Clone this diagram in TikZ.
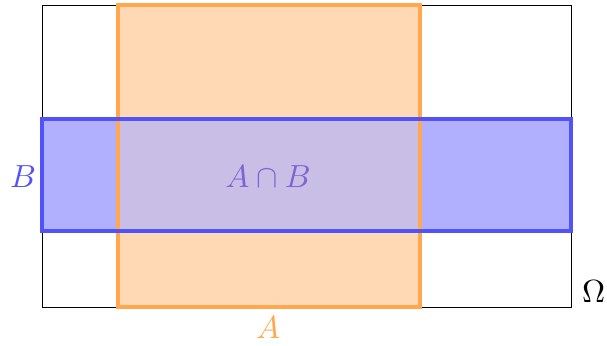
\documentclass[tikz,border=0pt]{standalone}
\usepackage{amsmath}
\usepackage{graphicx}
\newcommand{\biglbl}[1]{\scalebox{3.2}{#1}}
\begin{document}
\begin{tikzpicture}[x=1pt,y=-1pt,
  lbl/.style={inner sep=0pt},
  orangeline/.style={draw=oline,line width=3.2pt},
  blueline/.style={draw=bline,line width=3.2pt}]
\definecolor{ofill}{RGB}{255,216,180}
\definecolor{oline}{RGB}{255,168,80}
\definecolor{bfill}{RGB}{176,176,255}
\definecolor{bline}{RGB}{82,82,250}
\definecolor{ifill}{RGB}{200,190,230}
\definecolor{itext}{RGB}{128,100,210}
\useasboundingbox (0,0) rectangle (607,345);
\draw[line width=0.9pt] (42,5) rectangle (571,307);
\node[lbl,anchor=west] (omega) at (582,292) {\biglbl{$\Omega$}};
% A
\fill[ofill] (118,5) rectangle (420,307);
% B
\fill[bfill] (42,119) rectangle (571,231);
\fill[ifill] (118,119) rectangle (420,231);
\draw[orangeline] (118,5) rectangle (420,307);
\draw[blueline] (42,119) rectangle (571,231);
\node[lbl,text=bline] (b) at (23,177) {\biglbl{$B$}};
\node[lbl,text=itext] (ab) at (268,177) {\biglbl{$A\cap B$}};
\node[lbl,text=oline] (a) at (268,328) {\biglbl{$A$}};
\end{tikzpicture}
\end{document}
